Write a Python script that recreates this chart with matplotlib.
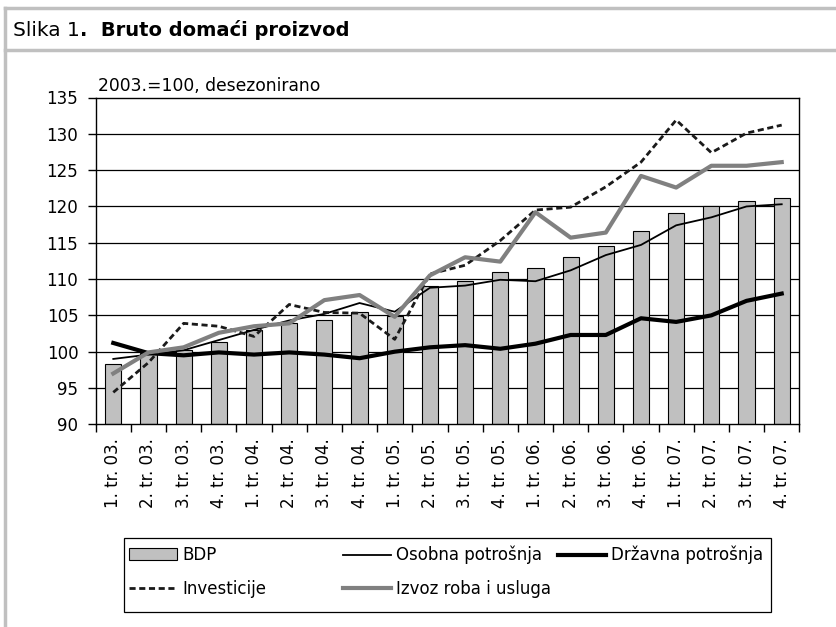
import matplotlib
matplotlib.use("Agg")
import matplotlib.pyplot as plt
from matplotlib.lines import Line2D
from matplotlib.patches import Rectangle
import numpy as np

plt.rcParams['font.family'] = ['DejaVu Sans']

categories = ["1. tr. 03.", "2. tr. 03.", "3. tr. 03.", "4. tr. 03.",
              "1. tr. 04.", "2. tr. 04.", "3. tr. 04.", "4. tr. 04.",
              "1. tr. 05.", "2. tr. 05.", "3. tr. 05.", "4. tr. 05.",
              "1. tr. 06.", "2. tr. 06.", "3. tr. 06.", "4. tr. 06.",
              "1. tr. 07.", "2. tr. 07.", "3. tr. 07.", "4. tr. 07."]

bdp = [98.3, 99.8, 100.2, 101.4, 103.0, 104.0, 104.3, 105.5, 104.9, 109.0,
       109.7, 111.0, 111.5, 113.0, 114.6, 116.6, 119.1, 120.1, 120.7, 121.1]
osobna = [99.0, 99.6, 100.2, 101.6, 103.0, 104.3, 105.2, 106.7, 105.5, 108.8,
          109.1, 109.9, 109.7, 111.2, 113.3, 114.7, 117.4, 118.5, 120.0, 120.3]
drzavna = [101.2, 99.8, 99.5, 99.9, 99.6, 99.9, 99.6, 99.1, 100.0, 100.6,
           100.9, 100.4, 101.1, 102.3, 102.3, 104.6, 104.1, 105.0, 107.0, 108.0]
investicije = [94.4, 98.5, 103.9, 103.5, 102.1, 106.5, 105.4, 105.3, 101.7, 110.7,
               111.9, 115.3, 119.5, 119.9, 122.7, 126.1, 131.9, 127.4, 130.1, 131.2]
izvoz = [97.0, 99.9, 100.6, 102.6, 103.5, 103.9, 107.1, 107.8, 104.8, 110.5,
         113.0, 112.4, 119.2, 115.7, 116.4, 124.2, 122.6, 125.6, 125.6, 126.1]

y_ticks = [90, 95, 100, 105, 110, 115, 120, 125, 130, 135]

fig = plt.figure(figsize=(8.37, 6.27), dpi=100)
W, H = 837, 627

# frame
frame_col = '#c0c0c0'
fig.add_artist(Line2D([5/W, 1], [1-8/H, 1-8/H], color=frame_col, lw=2.5))
fig.add_artist(Line2D([5/W, 1], [1-50/H, 1-50/H], color=frame_col, lw=2.5))
fig.add_artist(Line2D([5/W, 5/W], [0, 1-8/H], color=frame_col, lw=2.5))

fig.text(13/W, 1-30/H, "Slika 1", fontsize=14.5, va='center', ha='left')
fig.text(80/W, 1-30/H, ".  Bruto domaći proizvod", fontsize=14, va='center',
         ha='left', fontweight='bold')

ax = fig.add_axes([95.7/W, 1-424.3/H, (799.3-95.7)/W, (424.3-97.5)/H])
x = np.arange(len(categories))

bars = ax.bar(x, [v - 90 for v in bdp], bottom=90, width=0.46, color='#c0c0c0',
              edgecolor='black', linewidth=0.8, label='BDP', zorder=2)
l_os, = ax.plot(x, osobna, color='black', lw=1.3, label='Osobna potrošnja', zorder=3)
l_dr, = ax.plot(x, drzavna, color='black', lw=3.0, label='Državna potrošnja', zorder=3)
l_inv, = ax.plot(x, investicije, color='#1a1a1a', lw=2.0, ls=(0, (2.2, 1.3)),
                 label='Investicije', zorder=3)
l_iz, = ax.plot(x, izvoz, color='#808080', lw=3.0, label='Izvoz roba i usluga', zorder=3)

ax.set_xlim(-0.5, len(categories) - 0.5)
ax.set_ylim(90, 135)
ax.set_yticks(y_ticks)
ax.set_yticklabels([str(v) for v in y_ticks], fontsize=12)
ax.set_xticks(x)
ax.set_xticklabels(categories, rotation=90, fontsize=12)
ax.tick_params(axis='x', length=0, pad=10)
ax.set_xticks(np.arange(-0.5, len(categories), 1.0), minor=True)
ax.tick_params(axis='x', which='minor', length=6, width=1, direction='out')
ax.tick_params(axis='y', length=5.5, width=1, direction='out', pad=7)
for yv in y_ticks[1:-1]:
    ax.axhline(yv, color='black', lw=0.9, zorder=1)
for s in ax.spines.values():
    s.set_linewidth(1.0)

ax.text(0.003, 1.008, "2003.=100, desezonirano", transform=ax.transAxes,
        fontsize=12.3, ha='left', va='bottom')

# legend box
fig.add_artist(Rectangle((124/W, 1-612/H), (771-124)/W, (612-538)/H,
                         transform=fig.transFigure, fill=False,
                         edgecolor='black', lw=0.9))
columns = [([bars, l_inv], ['BDP', 'Investicije'], 124),
           ([l_os, l_iz], ['Osobna potrošnja', 'Izvoz roba i usluga'], 338),
           ([l_dr], ['Državna potrošnja'], 553)]
for hs, ls, x0 in columns:
    lg = fig.legend(hs, ls, loc='upper left',
                    bbox_to_anchor=(x0/W, 1-541/H), frameon=False,
                    fontsize=12, handlelength=2.9, handletextpad=0.3,
                    labelspacing=0.95, borderpad=0.3, borderaxespad=0)

fig.savefig('out.png', dpi=100)
